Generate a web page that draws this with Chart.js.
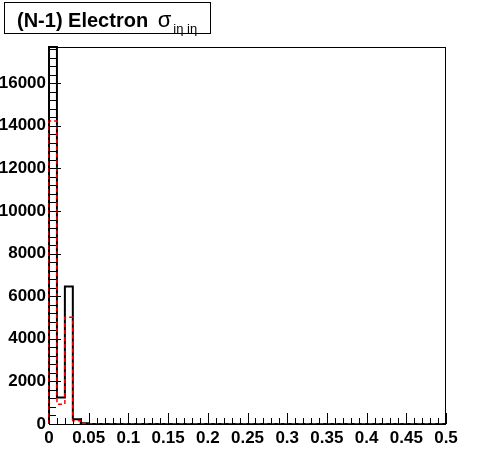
<!DOCTYPE html>
<html>
<head>
<meta charset="utf-8">
<title>(N-1) Electron sigma ieta ieta</title>
<script src="https://cdn.jsdelivr.net/npm/chart.js@4/dist/chart.umd.min.js"></script>
<style>
	body { margin: 0; background: #fff; }
	#wrap { position: relative; width: 496px; height: 472px; }
	#title {
		position: absolute; left: 4px; top: 2px; width: 207px; height: 32px;
		border: 1px solid #000; background: #fff; box-sizing: border-box;
		font-family: "Liberation Sans", Arial, sans-serif; color: #000;
	}
	#title .main { position: absolute; left: 12px; top: 4px; font-weight: bold; font-size: 20px; white-space: nowrap; }
	#title .sig { font-weight: normal; font-size: 22px; margin-left: 4px; }
	#title sub { font-weight: normal; font-size: 13px; vertical-align: -6px; margin-left: 2px; }
</style>
</head>
<body>
<div id="wrap">
	<canvas id="chart" width="496" height="472"></canvas>
	<div id="title"><span class="main">(N-1) Electron <span class="sig">σ</span><sub>iη iη</sub></span></div>
</div>
<script>
// histogram binning: 50 bins from 0 to 0.5
var xMin = 0;
var xMax = 0.5;
var nBins = 50;

// bin contents (first bins only, the rest is ~0)
var blackCounts = [17700, 1240, 6450, 220, 30, 0, 0, 0, 0, 0,
	0, 0, 0, 0, 0, 0, 0, 0, 0, 0,
	0, 0, 0, 0, 0, 0, 0, 0, 0, 0,
	0, 0, 0, 0, 0, 0, 0, 0, 0, 0,
	0, 0, 0, 0, 0, 0, 0, 0, 0, 0];
var redCounts = [14220, 930, 5010, 155, 20, 0, 0, 0, 0, 0,
	0, 0, 0, 0, 0, 0, 0, 0, 0, 0,
	0, 0, 0, 0, 0, 0, 0, 0, 0, 0,
	0, 0, 0, 0, 0, 0, 0, 0, 0, 0,
	0, 0, 0, 0, 0, 0, 0, 0, 0, 0];

var xTickLabels = ["0", "0.05", "0.1", "0.15", "0.2", "0.25", "0.3", "0.35", "0.4", "0.45", "0.5"];
var yTickLabels = ["0", "2000", "4000", "6000", "8000", "10000", "12000", "14000", "16000"];
var yMax = 17700;

var xMinorStep = 0.01;
var yMinorStep = 400;

// outline points: each bin content is held from its low edge to the next edge
function histPoints(counts) {
	var w = (xMax - xMin) / nBins;
	var pts = [{ x: xMin, y: 0 }];
	for (var i = 0; i < counts.length; i++) {
		pts.push({ x: xMin + i * w, y: counts[i] });
	}
	pts.push({ x: xMax, y: counts[counts.length - 1] });
	return pts;
}

// ROOT style frame with ticks drawn inward
var frameTicks = {
	id: "frameTicks",
	afterDraw: function(chart) {
		var ctx = chart.ctx;
		var a = chart.chartArea;
		var xs = chart.scales.x;
		var ys = chart.scales.y;
		ctx.save();
		ctx.strokeStyle = "#000";
		ctx.lineWidth = 1;
		ctx.strokeRect(a.left + 0.5, a.top + 0.5, a.right - a.left - 1, a.bottom - a.top);

		ctx.beginPath();
		var nx = Math.round((xMax - xMin) / xMinorStep);
		for (var i = 0; i <= nx; i++) {
			var px = Math.round(xs.getPixelForValue(xMin + i * xMinorStep)) + 0.5;
			var len = (i % 5 === 0) ? 11 : 6;
			ctx.moveTo(px, a.bottom);
			ctx.lineTo(px, a.bottom - len);
		}
		var ny = Math.floor(yMax / yMinorStep);
		for (var j = 0; j <= ny; j++) {
			var py = Math.round(ys.getPixelForValue(j * yMinorStep)) + 0.5;
			var ylen = (j % 5 === 0) ? 12 : 7;
			ctx.moveTo(a.left, py);
			ctx.lineTo(a.left + ylen, py);
		}
		ctx.stroke();
		ctx.restore();
	}
};

var myChart = new Chart(document.getElementById("chart"), {
	type: "line",
	data: {
		datasets: [{
			label: "all",
			data: histPoints(blackCounts),
			stepped: "before",
			borderColor: "#000",
			borderWidth: 2,
			pointRadius: 0,
			fill: false,
			clip: false,
			order: 2
		}, {
			label: "passing",
			data: histPoints(redCounts),
			stepped: "before",
			borderColor: "#ff0000",
			borderWidth: 1.5,
			borderDash: [4, 3],
			pointRadius: 0,
			fill: false,
			clip: false,
			order: 1
		}]
	},
	plugins: [frameTicks],
	options: {
		responsive: false,
		animation: false,
		layout: { padding: { top: 47, right: 50, left: 0, bottom: 0 } },
		plugins: { legend: { display: false }, tooltip: { enabled: false } },
		scales: {
			x: {
				type: "linear",
				min: xMin,
				max: xMax,
				grid: { display: false, drawTicks: false },
				border: { display: false },
				afterBuildTicks: function(scale) {
					scale.ticks = xTickLabels.map(function(t) { return { value: parseFloat(t) }; });
				},
				afterFit: function(scale) { scale.height = 48; },
				ticks: {
					autoSkip: false,
					maxRotation: 0,
					padding: 4,
					color: "#000",
					font: { family: "'Liberation Sans', Arial, sans-serif", size: 17, weight: "bold" },
					callback: function(v, i) { return xTickLabels[i]; }
				}
			},
			y: {
				min: 0,
				max: yMax,
				grid: { display: false, drawTicks: false },
				border: { display: false },
				afterBuildTicks: function(scale) {
					scale.ticks = yTickLabels.map(function(t) { return { value: parseFloat(t) }; });
				},
				afterFit: function(scale) { scale.width = 49; },
				ticks: {
					autoSkip: false,
					padding: 3,
					color: "#000",
					font: { family: "'Liberation Sans', Arial, sans-serif", size: 17, weight: "bold" },
					callback: function(v, i) { return yTickLabels[i]; }
				}
			}
		}
	}
});
</script>
</body>
</html>
